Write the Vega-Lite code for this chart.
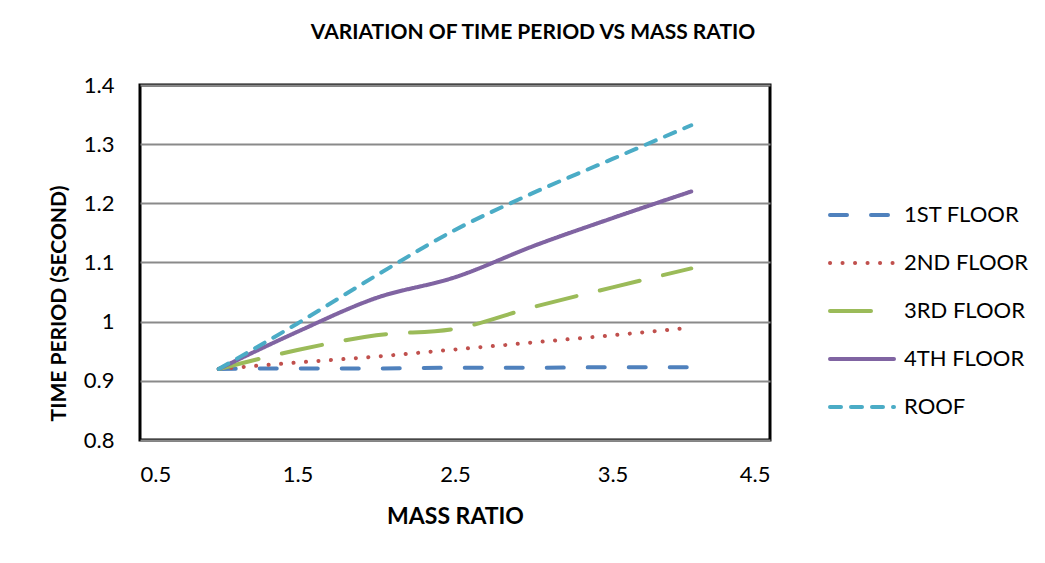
{
  "$schema": "https://vega.github.io/schema/vega-lite/v6.json",
  "width": 630,
  "height": 355,
  "autosize": "none",
  "padding": {"left": 140, "top": 85, "right": 275, "bottom": 123},
  "background": "white",
  "title": {
    "text": "VARIATION OF TIME PERIOD VS MASS RATIO",
    "font": "Lato",
    "fontSize": 21,
    "fontWeight": "bold",
    "color": "black",
    "anchor": "middle",
    "dx": 78,
    "baseline": "alphabetic",
    "offset": 14
  },
  "data": {
    "values": [
      {"x": 1, "y": 0.92, "s": "1ST FLOOR"},
      {"x": 1.5, "y": 0.921, "s": "1ST FLOOR"},
      {"x": 2, "y": 0.921, "s": "1ST FLOOR"},
      {"x": 2.5, "y": 0.922, "s": "1ST FLOOR"},
      {"x": 3, "y": 0.922, "s": "1ST FLOOR"},
      {"x": 3.5, "y": 0.923, "s": "1ST FLOOR"},
      {"x": 4, "y": 0.923, "s": "1ST FLOOR"},
      {"x": 1, "y": 0.92, "s": "2ND FLOOR"},
      {"x": 1.5, "y": 0.931, "s": "2ND FLOOR"},
      {"x": 2, "y": 0.941, "s": "2ND FLOOR"},
      {"x": 2.5, "y": 0.953, "s": "2ND FLOOR"},
      {"x": 3, "y": 0.965, "s": "2ND FLOOR"},
      {"x": 3.5, "y": 0.977, "s": "2ND FLOOR"},
      {"x": 4, "y": 0.99, "s": "2ND FLOOR"},
      {"x": 1, "y": 0.92, "s": "3RD FLOOR"},
      {"x": 1.5, "y": 0.952, "s": "3RD FLOOR"},
      {"x": 2, "y": 0.977, "s": "3RD FLOOR"},
      {"x": 2.5, "y": 0.988, "s": "3RD FLOOR"},
      {"x": 3, "y": 1.025, "s": "3RD FLOOR"},
      {"x": 3.5, "y": 1.058, "s": "3RD FLOOR"},
      {"x": 4, "y": 1.09, "s": "3RD FLOOR"},
      {"x": 1, "y": 0.92, "s": "4TH FLOOR"},
      {"x": 1.5, "y": 0.983, "s": "4TH FLOOR"},
      {"x": 2, "y": 1.04, "s": "4TH FLOOR"},
      {"x": 2.5, "y": 1.075, "s": "4TH FLOOR"},
      {"x": 3, "y": 1.128, "s": "4TH FLOOR"},
      {"x": 3.5, "y": 1.175, "s": "4TH FLOOR"},
      {"x": 4, "y": 1.22, "s": "4TH FLOOR"},
      {"x": 1, "y": 0.92, "s": "ROOF"},
      {"x": 1.5, "y": 0.997, "s": "ROOF"},
      {"x": 2, "y": 1.078, "s": "ROOF"},
      {"x": 2.5, "y": 1.155, "s": "ROOF"},
      {"x": 3, "y": 1.218, "s": "ROOF"},
      {"x": 3.5, "y": 1.275, "s": "ROOF"},
      {"x": 4, "y": 1.332, "s": "ROOF"}
    ]
  },
  "mark": {"type": "line", "interpolate": "monotone", "strokeWidth": 4, "strokeCap": "round"},
  "encoding": {
    "x": {
      "field": "x", "type": "quantitative",
      "scale": {"domain": [0.5, 4.5], "nice": false, "zero": false},
      "axis": {
        "title": "MASS RATIO",
        "values": [0.5, 1.5, 2.5, 3.5, 4.5],
        "format": ".1f",
        "grid": false,
        "domain": false,
        "ticks": false,
        "labelPadding": 24,
        "titlePadding": 20,
        "titleFontSize": 23
      }
    },
    "y": {
      "field": "y", "type": "quantitative",
      "scale": {"domain": [0.8, 1.4], "nice": false, "zero": false},
      "axis": {
        "title": "TIME PERIOD (SECOND)",
        "values": [0.8, 0.9, 1.0, 1.1, 1.2, 1.3, 1.4],
        "format": ".1~f",
        "grid": true,
        "gridColor": "#8a8a8a",
        "gridWidth": 2,
        "gridOpacity": 1,
        "domain": false,
        "ticks": false,
        "labelPadding": 26,
        "titlePadding": 14,
        "titleFontSize": 21,
        "titleY": 218
      }
    },
    "color": {
      "field": "s", "type": "nominal",
      "scale": {
        "domain": ["1ST FLOOR", "2ND FLOOR", "3RD FLOOR", "4TH FLOOR", "ROOF"],
        "range": ["#4F81BD", "#C0504D", "#9BBB59", "#8064A2", "#4BACC6"]
      },
      "legend": {
        "title": null,
        "encode": {"symbols": {"update": {"strokeCap": {"value": "round"}}}}
      }
    },
    "strokeDash": {
      "field": "s", "type": "nominal",
      "scale": {
        "domain": ["1ST FLOOR", "2ND FLOOR", "3RD FLOOR", "4TH FLOOR", "ROOF"],
        "range": [[17, 24], [0.1, 12.4], [41, 24], [1, 0], [11, 10]]
      },
      "legend": {
        "title": null,
        "encode": {"symbols": {"update": {"strokeCap": {"value": "round"}}}}
      }
    }
  },
  "config": {
    "font": "Lato",
    "view": {"stroke": "black", "strokeWidth": 3},
    "axis": {
      "labelFont": "Lato",
      "labelFontSize": 22,
      "labelColor": "black",
      "titleFont": "Lato",
      "titleFontWeight": "bold",
      "titleColor": "black"
    },
    "legend": {
      "orient": "none",
      "legendX": 688,
      "legendY": 96,
      "symbolType": "stroke",
      "symbolSize": 4096,
      "symbolStrokeWidth": 4,
      "labelFont": "Lato",
      "labelFontSize": 22,
      "labelColor": "black",
      "labelOffset": 8,
      "rowPadding": 3
    }
  }
}
